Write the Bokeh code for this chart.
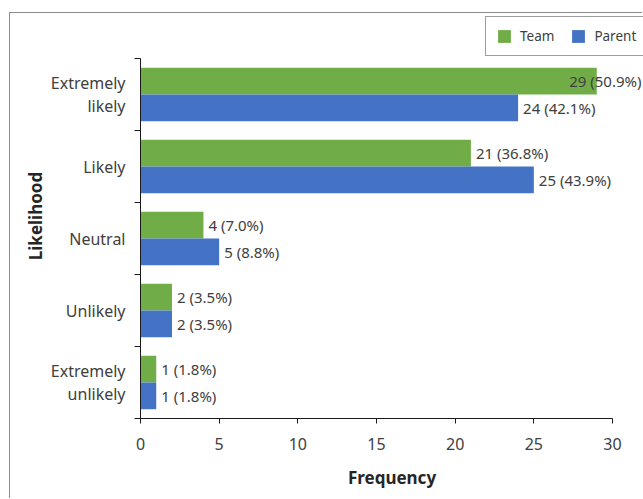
from bokeh.plotting import figure
from bokeh.models import Range1d, FixedTicker, LinearAxis, ColumnDataSource, Legend, LegendItem
from bokeh.embed import file_html
from bokeh.resources import INLINE
from bokeh.core.properties import value

# ---- data ----
categories = ["Extremely likely", "Likely", "Neutral", "Unlikely", "Extremely unlikely"]
category_labels = ["Extremely\nlikely", "Likely", "Neutral", "Unlikely", "Extremely\nunlikely"]
team = [29, 21, 4, 2, 1]
parent = [24, 25, 5, 2, 1]
team_pct = [50.9, 36.8, 7.0, 3.5, 1.8]
parent_pct = [42.1, 43.9, 8.8, 3.5, 1.8]
x_ticks = [0, 5, 10, 15, 20, 25, 30]
series_names = ["Team", "Parent"]

# ---- style ----
FONT = "Noto Sans"
GREEN = "#70AD47"
BLUE = "#4472C4"
TXT = "#404040"
AX = "#1a1a1a"

n = len(categories)
centers = [n - i - 0.5 for i in range(n)]
bar_h = 0.37
X_AXIS_MAX = x_ticks[-1]
FRAME_W = 503
PX_PER_UNIT = 472 / X_AXIS_MAX
X_END = FRAME_W / PX_PER_UNIT
FRAME_H = 405
Y_END = FRAME_H / 72.0

p = figure(width=633, height=486, output_backend="svg", toolbar_location=None,
           x_range=Range1d(0, X_END), y_range=Range1d(0, Y_END),
           min_border_left=130, min_border_right=0, min_border_top=0, min_border_bottom=81)
p.margin = (12, 0, 0, 9)
p.styles = {"border-left": "1px solid #8c8c8c", "border-top": "1px solid #8c8c8c"}
p.outline_line_color = None
p.xgrid.grid_line_color = None
p.ygrid.grid_line_color = None
p.background_fill_color = "white"
p.border_fill_color = "white"

src = ColumnDataSource(dict(
    y_team=[c + bar_h / 2 for c in centers],
    y_parent=[c - bar_h / 2 for c in centers],
    team=team, parent=parent,
    team_lbl=[f"{v} ({pc:.1f}%)" for v, pc in zip(team, team_pct)],
    parent_lbl=[f"{v} ({pc:.1f}%)" for v, pc in zip(parent, parent_pct)],
))

r_team = p.hbar(y="y_team", right="team", left=0, height=bar_h, source=src,
                fill_color=GREEN, line_color=None)
r_parent = p.hbar(y="y_parent", right="parent", left=0, height=bar_h, source=src,
                  fill_color=BLUE, line_color=None)

# data labels
LABEL_W = 80  # approx label width in px
def split(vals, ys, lbls):
    inside, over = dict(x=[], y=[], t=[]), dict(x=[], y=[], t=[])
    for v, y, t in zip(vals, ys, lbls):
        d = over if v * PX_PER_UNIT + 5 + LABEL_W > FRAME_W else inside
        d["x"].append(X_END if d is over else v)
        d["y"].append(y)
        d["t"].append(t)
    return inside, over

for vals, ykey, lkey in [(team, "y_team", "team_lbl"), (parent, "y_parent", "parent_lbl")]:
    ins, ov = split(vals, src.data[ykey], src.data[lkey])
    p.text(x=ins["x"], y=ins["y"], text=ins["t"], x_offset=5, text_align="left",
           text_baseline="middle", text_font=value(FONT), text_font_size="15px", text_color=TXT)
    if ov["x"]:
        p.text(x=ov["x"], y=ov["y"], text=ov["t"], x_offset=-2, text_align="right",
               text_baseline="middle", text_font=value(FONT), text_font_size="15px", text_color=TXT)

# x axis
xa = p.xaxis[0]
xa.ticker = FixedTicker(ticks=x_ticks)
xa.bounds = (0, X_AXIS_MAX)
xa.major_tick_out = 5
xa.major_tick_in = 0
xa.minor_tick_line_color = None
xa.axis_line_color = AX
xa.major_tick_line_color = AX
xa.major_label_text_font = FONT
xa.major_label_text_font_size = "16px"
xa.major_label_text_color = TXT
xa.major_label_standoff = 14
xa.axis_label = "Frequency"
xa.axis_label_text_font = FONT
xa.axis_label_text_font_style = "bold"
xa.axis_label_text_font_size = "17px"
xa.axis_label_text_color = "#262626"
xa.axis_label_standoff = 13

# y axis: boundary ticks
ya = p.yaxis[0]
ya.ticker = FixedTicker(ticks=list(range(n + 1)))
ya.major_label_overrides = {i: "" for i in range(n + 1)}
ya.bounds = (0, n)
ya.major_tick_out = 6
ya.major_tick_in = 0
ya.minor_tick_line_color = None
ya.axis_line_color = AX
ya.major_tick_line_color = AX
ya.major_label_standoff = 0

# y axis: category labels
ly = LinearAxis(ticker=FixedTicker(ticks=centers),
                major_label_overrides={c: lbl for c, lbl in zip(centers, category_labels)},
                bounds=(0, n))
ly.axis_line_color = None
ly.major_tick_line_color = None
ly.minor_tick_line_color = None
ly.major_label_standoff = 3
ly.major_label_text_font = FONT
ly.major_label_text_font_size = "16px"
ly.major_label_text_color = TXT
ly.major_label_text_line_height = 1.05
ly.axis_label = "Likelihood"
ly.axis_label_text_font = FONT
ly.axis_label_text_font_style = "bold"
ly.axis_label_text_font_size = "17px"
ly.axis_label_text_color = "#262626"
ly.axis_label_standoff = 1
p.add_layout(ly, "left")

legend = Legend(items=[LegendItem(label=series_names[0], renderers=[r_team]),
                       LegendItem(label=series_names[1], renderers=[r_parent])],
                orientation="horizontal", location=(345, 362))
legend.glyph_width = 16
legend.glyph_height = 16
legend.label_height = 16
legend.label_standoff = 8
legend.spacing = 16
legend.padding = 10
legend.margin = 0
legend.border_line_color = "#3c3c3c"
legend.border_line_width = 1
legend.label_text_font = FONT
legend.label_text_font_size = "13.5px"
legend.label_text_color = TXT
legend.background_fill_alpha = 1
p.add_layout(legend)

open("out.html", "w").write(file_html(p, INLINE))
